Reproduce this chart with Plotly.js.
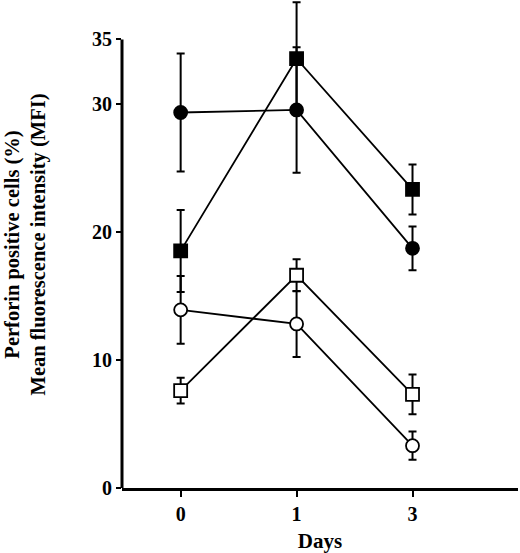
<!DOCTYPE html>
<html>
<head>
<meta charset="utf-8">
<script src="https://cdn.plot.ly/plotly-3.0.1.min.js"></script>
<style>
  body { margin: 0; background: #fff; }
  #grafico { width: 520px; height: 553px; }
</style>
</head>
<body>
<div id="grafico"></div>
<script>
// dias (categorias del eje x)
var dias = ["0", "1", "3"];

// perforin % (cuadrados)
var cuadradoLleno = [18.5, 33.5, 23.3];
var errCuadradoLleno = [3.2, 4.4, 1.95];
var cuadradoVacio = [7.6, 16.6, 7.3];
var errCuadradoVacio = [1.0, 1.25, 1.55];

// MFI (circulos)
var circuloLleno = [29.3, 29.5, 18.7];
var errCirculoLleno = [4.6, 4.9, 1.7];
var circuloVacio = [13.9, 12.8, 3.3];
var errCirculoVacio = [2.65, 2.57, 1.1];

var ticksY = [0, 10, 20, 30, 35];

function serie(y, err, simbolo, relleno) {
  return {
    x: dias,
    y: y,
    type: "scatter",
    mode: "lines+markers",
    cliponaxis: false,
    line: {color: "#000", width: 1.8},
    marker: {symbol: simbolo, size: 13, color: relleno, line: {color: "#000", width: 1.8}},
    error_y: {type: "data", array: err, visible: true, color: "#000", thickness: 2, width: 4}
  };
}

// los simbolos vacios van rellenos de blanco para tapar las lineas
var data = [
  serie(circuloVacio, errCirculoVacio, "circle", "#fff"),
  serie(cuadradoVacio, errCuadradoVacio, "square", "#fff"),
  serie(circuloLleno, errCirculoLleno, "circle", "#000"),
  serie(cuadradoLleno, errCuadradoLleno, "square", "#000")
];

var fuente = {family: "Liberation Serif", size: 20.5, color: "#000"};

var layout = {
  width: 520,
  height: 553,
  showlegend: false,
  paper_bgcolor: "#fff",
  plot_bgcolor: "#fff",
  margin: {l: 122, r: 2, t: 0.5, b: 65},
  font: fuente,
  xaxis: {
    type: "category",
    range: [-0.506, 2.91],
    showgrid: false,
    zeroline: false,
    showline: true,
    linewidth: 3,
    linecolor: "#000",
    ticks: "outside",
    ticklen: 6,
    tickwidth: 2,
    tickcolor: "#000",
    tickfont: {family: "Liberation Serif", size: 20, color: "#000", weight: "bold"},
    title: {text: "<b>Days</b>", font: {family: "Liberation Serif", size: 21, color: "#000"}, standoff: 11}
  },
  yaxis: {
    range: [0, 38],
    tickvals: ticksY,
    ticktext: ticksY.map(String),
    showgrid: false,
    zeroline: false,
    showline: false,
    ticks: "outside",
    ticklen: 5,
    tickwidth: 2,
    tickcolor: "#000",
    tickfont: {family: "Liberation Serif", size: 20, color: "#000", weight: "bold"},
    title: {text: "<b>Perforin positive cells (%)<br>Mean fluorescence intensity (MFI)</b>", font: fuente, standoff: 40}
  },
  // linea del eje y que termina en 35
  shapes: [{
    type: "line", xref: "paper", yref: "y",
    x0: 0, x1: 0, y0: 0, y1: 35,
    line: {color: "#000", width: 3}
  }]
};

Plotly.newPlot("grafico", data, layout, {staticPlot: true});
</script>
</body>
</html>
